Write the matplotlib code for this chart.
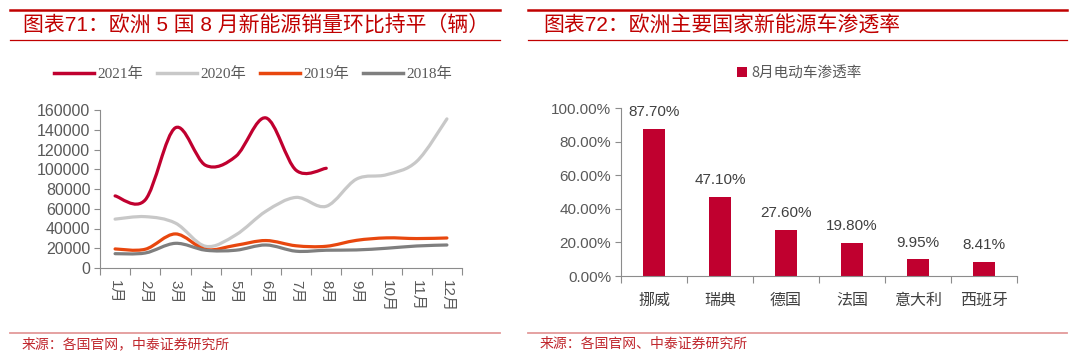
import matplotlib as mpl
from matplotlib import pyplot as plt
from matplotlib.path import Path
from matplotlib.patches import PathPatch
from matplotlib.lines import Line2D

mpl.rcParams['font.family'] = ['Liberation Sans', 'Noto Sans CJK SC']
mpl.rcParams['axes.unicode_minus'] = False

# ---- data: left chart (monthly NEV sales, 5 European countries)
months = ['1月', '2月', '3月', '4月', '5月', '6月', '7月', '8月', '9月', '10月', '11月', '12月']
sales_2021 = [73000, 69000, 142000, 104000, 113000, 152000, 99000, 101000]
sales_2020 = [49500, 52000, 45500, 22000, 33500, 57500, 71500, 62500, 90000, 94500, 108000, 151000]
sales_2019 = [19300, 19000, 34500, 18800, 23000, 27800, 22500, 22000, 28000, 30500, 29800, 30400]
sales_2018 = [14500, 15200, 25000, 18000, 18000, 23300, 17000, 18000, 18300, 20000, 22300, 23300]
series_names = ['2021年', '2020年', '2019年', '2018年']

# ---- data: right chart (August EV penetration)
countries = ['挪威', '瑞典', '德国', '法国', '意大利', '西班牙']
penetration = [0.877, 0.471, 0.276, 0.198, 0.0995, 0.0841]
pen_labels = ['87.70%', '47.10%', '27.60%', '19.80%', '9.95%', '8.41%']

RED = '#C00000'
BAR = '#C0002F'
colors = ['#C0002F', '#C8C8C8', '#E8470E', '#7F7F7F']
TXT = '#595959'
AXC = '#8C8C8C'


def smooth_path(xs, ys):
    # Excel-like smoothed line: cubic bezier through every point
    pts = list(zip(xs, ys))
    n = len(pts)
    verts = [pts[0]]
    codes = [Path.MOVETO]
    for i in range(n - 1):
        p0 = pts[i - 1] if i > 0 else pts[i]
        p1 = pts[i]
        p2 = pts[i + 1]
        p3 = pts[i + 2] if i + 2 < n else pts[i + 1]
        c1 = (p1[0] + (p2[0] - p0[0]) / 6, p1[1] + (p2[1] - p0[1]) / 6)
        c2 = (p2[0] - (p3[0] - p1[0]) / 6, p2[1] - (p3[1] - p1[1]) / 6)
        verts += [c1, c2, p2]
        codes += [Path.CURVE4] * 3
    return Path(verts, codes)


fig = plt.figure(figsize=(10.8, 3.6), dpi=100)

# ---- header / footer decorations
for x0, x1 in [(0.009, 0.463), (0.489, 0.988)]:
    fig.add_artist(Line2D([x0, x1], [1 - 10 / 360] * 2, color=RED, lw=1.8))
    fig.add_artist(Line2D([x0, x1], [1 - 40 / 360] * 2, color=RED, lw=0.9))
    fig.add_artist(Line2D([x0, x1], [1 - 333 / 360] * 2, color='#E39A9A', lw=1.3))

fig.text(0.021, 1 - 26 / 360, '图表71：欧洲 5 国 8 月新能源销量环比持平（辆）', color=RED,
         fontsize=15, fontweight='normal', va='center')
fig.text(0.503, 1 - 26 / 360, '图表72：欧洲主要国家新能源车渗透率', color=RED,
         fontsize=15, fontweight='normal', va='center')
fig.text(0.02, 1 - 344 / 360, '来源：各国官网，中泰证券研究所', color='#C0272D',
         fontsize=10, va='center')
fig.text(0.5, 1 - 344 / 360, '来源：各国官网、中泰证券研究所', color='#C0272D',
         fontsize=10, va='center')

# ---- left: line chart
ax1 = fig.add_axes([100 / 1080, 92 / 360, 362 / 1080, 158 / 360])
handles = []
for vals, name, c in zip([sales_2021, sales_2020, sales_2019, sales_2018], series_names, colors):
    xs = list(range(len(vals)))
    ax1.add_patch(PathPatch(smooth_path(xs, vals), fill=False, edgecolor=c, lw=2.3,
                            capstyle='round', joinstyle='round'))
    handles.append(Line2D([], [], color=c, lw=2.5, label=name))
ax1.set_xlim(-0.5, len(months) - 0.5)
ax1.set_ylim(0, 160000)
ax1.set_yticks(range(0, 160001, 20000))
ax1.set_xticks([i - 0.5 for i in range(len(months) + 1)])
ax1.set_xticklabels([])
ax1.set_xticks(range(len(months)), minor=True)
ax1.set_xticklabels(months, minor=True, rotation=-90, color=TXT, fontsize=11)
ax1.tick_params(axis='x', which='major', length=5, direction='out', color=AXC)
ax1.tick_params(axis='x', which='minor', length=0, pad=9)
ax1.tick_params(axis='y', length=4, color=AXC, labelcolor=TXT, labelsize=11.5, pad=3)
for s in ['top', 'right']:
    ax1.spines[s].set_visible(False)
for s in ['left', 'bottom']:
    ax1.spines[s].set_color(AXC)
fig.legend(handles=handles, loc='center', bbox_to_anchor=(253 / 1080, 1 - 74 / 360), ncol=4,
           frameon=False, handlelength=2.6, handletextpad=0.25, columnspacing=0.9,
           prop={'family': ['Liberation Serif', 'Noto Sans CJK SC'], 'size': 11},
           labelcolor=TXT)

# ---- right: bar chart
ax2 = fig.add_axes([621 / 1080, 84 / 360, 396 / 1080, 168 / 360])
xb = range(len(countries))
bars = ax2.bar(xb, penetration, width=0.32, color=BAR, label='8月电动车渗透率')
for b, lab in zip(bars, pen_labels):
    ax2.annotate(lab, (b.get_x() + b.get_width() / 2, b.get_height()), xytext=(0, 7),
                 textcoords='offset points', ha='center', va='bottom', fontsize=11, color='#404040')
ax2.set_xlim(-0.5, len(countries) - 0.5)
ax2.set_ylim(0, 1.0)
ax2.set_yticks([0, 0.2, 0.4, 0.6, 0.8, 1.0])
ax2.set_yticklabels(['0.00%', '20.00%', '40.00%', '60.00%', '80.00%', '100.00%'])
ax2.set_xticks([i - 0.5 for i in range(len(countries) + 1)])
ax2.set_xticklabels([])
ax2.set_xticks(list(xb), minor=True)
ax2.set_xticklabels(countries, minor=True, color='#404040', fontsize=11.5)
ax2.tick_params(axis='x', which='major', length=5, direction='out', color=AXC)
ax2.tick_params(axis='x', which='minor', length=0, pad=12)
ax2.tick_params(axis='y', length=4, color=AXC, labelcolor=TXT, labelsize=11, pad=3)
for s in ['top', 'right']:
    ax2.spines[s].set_visible(False)
for s in ['left', 'bottom']:
    ax2.spines[s].set_color(AXC)
fig.legend(handles=[bars], loc='center', bbox_to_anchor=(799 / 1080, 1 - 73 / 360), frameon=False,
           handlelength=0.7, handleheight=0.7, handletextpad=0.3,
           prop={'family': ['Noto Sans CJK SC'], 'size': 10.5}, labelcolor=TXT)

fig.savefig('out.png', dpi=100)
